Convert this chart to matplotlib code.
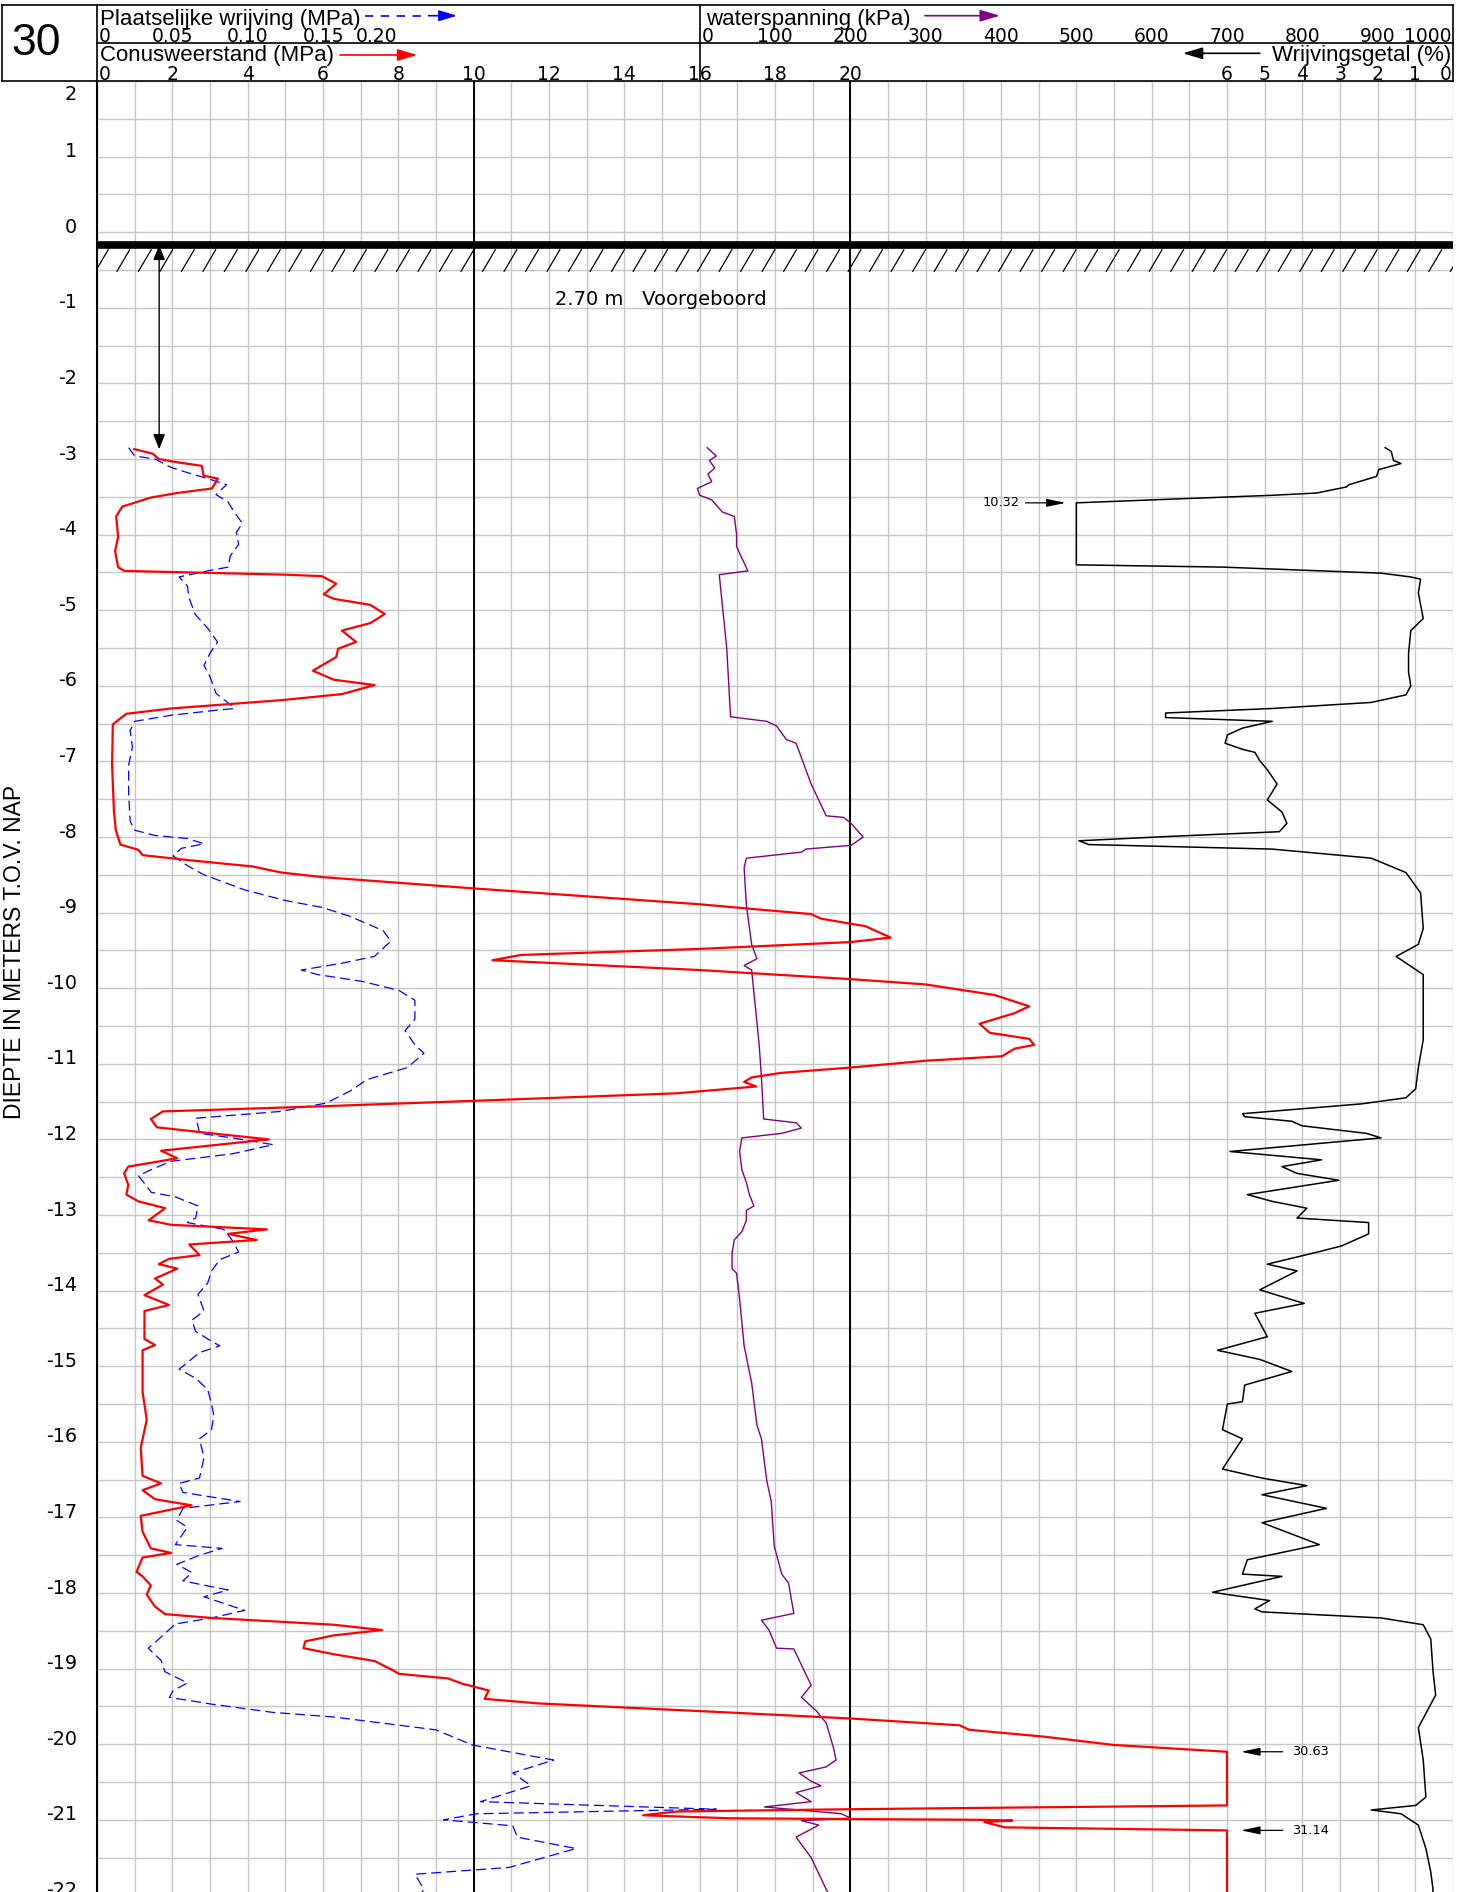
import numpy as np
import matplotlib
matplotlib.use("Agg")
import matplotlib.pyplot as plt
import matplotlib.transforms as mtransforms
from matplotlib.collections import LineCollection

plt.rcParams['font.family'] = ['Liberation Sans', 'DejaVu Sans']
plt.rcParams['axes.unicode_minus'] = False
NUMFONT = ['DejaVu Sans']

# ---------------- data ----------------
GROUND = -0.17          # m NAP, ground level
QC_CLIP = 30.0          # MPa, cone resistance display limit
RF_CLIP = 10.0          # %, friction ratio display limit

# cone resistance (MPa)
depth_qc = [-2.87, -2.93, -3.00, -3.04, -3.09, -3.22, -3.26, -3.39, -3.45, -3.51,
            -3.63, -3.76, -4.03, -4.22, -4.43, -4.48, -4.53, -4.55, -4.65, -4.79,
            -4.85, -4.93, -5.05, -5.17, -5.27, -5.42, -5.51, -5.62, -5.80, -5.92,
            -5.99, -6.11, -6.19, -6.30, -6.37, -6.51, -7.05, -7.67, -7.91, -8.10,
            -8.17, -8.24, -8.31, -8.39, -8.47, -8.53, -8.68, -8.89, -9.02, -9.08,
            -9.18, -9.33, -9.39, -9.48, -9.56, -9.63, -9.64, -9.76, -9.88, -9.95,
            -10.09, -10.24, -10.33, -10.47, -10.59, -10.67, -10.75, -10.80, -10.90, -10.96,
            -11.05, -11.12, -11.18, -11.24, -11.30, -11.39, -11.49, -11.56, -11.63, -11.73,
            -11.84, -11.92, -12.00, -12.15, -12.25, -12.36, -12.45, -12.60, -12.73, -12.82,
            -12.91, -13.07, -13.13, -13.19, -13.25, -13.33, -13.39, -13.53, -13.58, -13.65,
            -13.71, -13.84, -13.92, -14.06, -14.19, -14.27, -14.64, -14.72, -14.79, -15.34,
            -15.71, -16.08, -16.45, -16.55, -16.64, -16.76, -16.84, -16.98, -17.19, -17.41,
            -17.47, -17.53, -17.72, -17.78, -17.90, -18.02, -18.18, -18.28, -18.33, -18.42,
            -18.49, -18.56, -18.64, -18.73, -18.81, -18.90, -19.01, -19.07, -19.13, -19.20,
            -19.29, -19.40, -19.46, -19.58, -19.66, -19.75, -19.81, -19.90, -20.01, -20.10,
            -20.30, -20.50, -20.70, -20.81, -20.86, -20.89, -20.94, -20.98, -21.00, -21.01,
            -21.03, -21.10, -21.14, -21.40, -21.70, -22.00]
qc = [0.99, 1.48, 1.64, 2.08, 2.78, 2.83, 3.21, 3.05, 2.13, 1.43,
      0.67, 0.51, 0.56, 0.48, 0.56, 0.72, 5.00, 5.97, 6.35, 6.02,
      6.29, 7.26, 7.64, 7.26, 6.50, 6.88, 6.40, 6.35, 5.73, 6.29,
      7.37, 6.50, 4.89, 1.97, 0.78, 0.42, 0.40, 0.45, 0.50, 0.62,
      1.10, 1.21, 2.51, 4.13, 4.89, 5.97, 10.00, 16.00, 18.96, 19.22,
      20.40, 21.07, 20.00, 16.00, 11.26, 10.50, 10.94, 16.00, 20.00, 21.99,
      23.83, 24.75, 24.36, 23.43, 23.70, 24.75, 24.88, 24.36, 24.03, 21.99,
      20.00, 18.17, 17.38, 17.18, 17.50, 15.40, 10.00, 6.08, 1.75, 1.43,
      1.59, 3.05, 4.56, 1.70, 2.13, 0.83, 0.72, 0.83, 0.78, 1.10,
      1.81, 1.37, 1.97, 4.51, 3.48, 4.24, 2.45, 2.72, 1.91, 1.64,
      2.13, 1.54, 1.75, 1.26, 1.91, 1.26, 1.26, 1.54, 1.21, 1.21,
      1.32, 1.16, 1.21, 1.70, 1.21, 1.54, 2.51, 1.16, 1.21, 1.43,
      1.97, 1.21, 1.05, 1.21, 1.43, 1.32, 1.54, 1.81, 3.05, 6.29,
      7.57, 6.29, 5.53, 5.48, 6.29, 7.37, 7.81, 8.02, 9.32, 9.70,
      10.40, 10.29, 11.70, 16.76, 20.00, 22.90, 23.16, 25.14, 26.99, 30.63,
      33.50, 35.00, 32.80, 30.40, 20.00, 15.40, 14.50, 16.80, 23.43, 24.30,
      23.56, 24.10, 31.14, 34.00, 36.00, 35.00]

# local sleeve friction (MPa)
depth_fs = [-2.85, -2.96, -3.00, -3.11, -3.18, -3.26, -3.34, -3.47, -3.57, -3.70,
            -3.85, -3.97, -4.13, -4.28, -4.43, -4.48, -4.56, -4.68, -4.83, -5.05,
            -5.24, -5.42, -5.57, -5.73, -5.88, -6.10, -6.25, -6.30, -6.33, -6.39,
            -6.47, -6.59, -6.81, -7.05, -7.42, -7.79, -7.91, -7.98, -8.02, -8.09,
            -8.15, -8.25, -8.38, -8.50, -8.70, -8.84, -8.93, -9.05, -9.24, -9.38,
            -9.58, -9.67, -9.76, -9.82, -9.91, -10.03, -10.16, -10.41, -10.56, -10.75,
            -10.86, -11.05, -11.21, -11.36, -11.52, -11.63, -11.72, -11.82, -11.92, -11.98,
            -12.07, -12.19, -12.29, -12.40, -12.48, -12.70, -12.76, -12.88, -13.04, -13.10,
            -13.19, -13.34, -13.49, -13.59, -13.74, -13.90, -14.05, -14.27, -14.39, -14.54,
            -14.67, -14.73, -14.82, -15.04, -15.16, -15.31, -15.50, -15.65, -15.84, -15.96,
            -16.21, -16.48, -16.55, -16.67, -16.79, -16.88, -17.04, -17.13, -17.36, -17.41,
            -17.50, -17.62, -17.73, -17.84, -17.96, -18.05, -18.23, -18.33, -18.41, -18.61,
            -18.73, -18.89, -19.04, -19.19, -19.29, -19.38, -19.47, -19.58, -19.64, -19.81,
            -20.01, -20.21, -20.38, -20.55, -20.76, -20.86, -20.92, -21.00, -21.08, -21.23,
            -21.38, -21.63, -21.72, -21.92, -22.05]
fs = [0.021, 0.025, 0.0385, 0.049, 0.060, 0.0735, 0.086, 0.079, 0.087, 0.091,
      0.0965, 0.0925, 0.094, 0.0885, 0.087, 0.0735, 0.0545, 0.060, 0.061, 0.065,
      0.0735, 0.080, 0.075, 0.071, 0.075, 0.079, 0.0885, 0.091, 0.076, 0.049,
      0.025, 0.022, 0.0235, 0.021, 0.021, 0.022, 0.025, 0.0385, 0.060, 0.071,
      0.056, 0.0505, 0.060, 0.071, 0.098, 0.125, 0.149, 0.168, 0.190, 0.195,
      0.184, 0.1625, 0.1355, 0.1465, 0.176, 0.2005, 0.211, 0.211, 0.2045, 0.211,
      0.217, 0.206, 0.179, 0.168, 0.152, 0.122, 0.0655, 0.067, 0.068, 0.090,
      0.117, 0.090, 0.049, 0.036, 0.0275, 0.036, 0.052, 0.067, 0.0655, 0.060,
      0.084, 0.090, 0.094, 0.0815, 0.076, 0.0735, 0.067, 0.071, 0.063, 0.0655,
      0.076, 0.0815, 0.068, 0.0545, 0.0655, 0.0735, 0.076, 0.0775, 0.076, 0.068,
      0.071, 0.068, 0.0545, 0.057, 0.095, 0.057, 0.053, 0.060, 0.052, 0.083,
      0.068, 0.053, 0.063, 0.057, 0.087, 0.071, 0.098, 0.076, 0.052, 0.041,
      0.034, 0.0425, 0.045, 0.060, 0.0505, 0.048, 0.076, 0.117, 0.157, 0.225,
      0.249, 0.303, 0.276, 0.288, 0.2545, 0.411, 0.252, 0.230, 0.276, 0.279,
      0.318, 0.2735, 0.211, 0.217, 0.2125]

# pore water pressure (kPa)
depth_u = [-2.85, -2.96, -3.02, -3.12, -3.20, -3.30, -3.39, -3.48, -3.54, -3.70,
           -3.76, -4.00, -4.16, -4.48, -4.53, -5.51, -6.41, -6.47, -6.53, -6.71,
           -6.76, -7.30, -7.72, -7.74, -7.82, -8.00, -8.11, -8.16, -8.20, -8.28,
           -8.41, -8.90, -9.42, -9.61, -9.70, -9.76, -10.75, -11.18, -11.73, -11.78,
           -11.85, -11.92, -11.98, -12.16, -12.40, -12.57, -12.73, -12.88, -12.94, -13.07,
           -13.22, -13.33, -13.50, -13.71, -13.77, -14.11, -14.73, -15.22, -15.78, -15.96,
           -16.51, -16.79, -17.38, -17.75, -17.87, -18.27, -18.36, -18.49, -18.73, -18.74,
           -18.95, -19.22, -19.38, -19.56, -19.72, -20.06, -20.21, -20.30, -20.38, -20.49,
           -20.55, -20.64, -20.76, -20.83, -20.92, -20.98, -21.01, -21.07, -21.23, -21.50,
           -21.92, -22.05]
u = [10, 22, 13, 20, 11, 16, -3, 0, 16, 30,
     46, 49, 49, 64, 26, 36, 41, 89, 102, 115,
     128, 148, 168, 191, 201, 217, 201, 141, 135, 62,
     59, 62, 69, 76, 59, 69, 79, 82, 85, 128,
     135, 109, 56, 53, 56, 62, 66, 72, 62, 62,
     56, 46, 43, 43, 49, 53, 59, 69, 76, 82,
     89, 95, 99, 109, 118, 125, 82, 92, 102, 125,
     135, 148, 135, 155, 168, 178, 181, 168, 132, 148,
     161, 128, 148, 86, 188, 201, 135, 158, 128, 148,
     168, 175]

# friction ratio (%)
depth_rf = [-2.85, -2.90, -3.02, -3.06, -3.14, -3.23, -3.34, -3.37, -3.45, -3.48,
            -3.53, -3.58, -3.80, -4.00, -4.20, -4.40, -4.43, -4.48, -4.51, -4.56,
            -4.59, -4.77, -5.11, -5.27, -5.57, -5.82, -6.00, -6.12, -6.22, -6.30,
            -6.36, -6.42, -6.47, -6.56, -6.65, -6.76, -6.84, -6.88, -6.99, -7.11,
            -7.30, -7.51, -7.67, -7.82, -7.93, -7.99, -8.05, -8.10, -8.16, -8.28,
            -8.47, -8.74, -9.21, -9.42, -9.58, -9.69, -9.82, -10.68, -11.05, -11.33,
            -11.45, -11.53, -11.66, -11.70, -11.76, -11.82, -11.92, -11.98, -12.16, -12.27,
            -12.36, -12.45, -12.54, -12.73, -12.82, -12.91, -13.04, -13.10, -13.25, -13.41,
            -13.50, -13.65, -13.74, -13.99, -14.17, -14.30, -14.61, -14.79, -14.91, -15.07,
            -15.25, -15.47, -15.50, -15.84, -15.96, -16.36, -16.48, -16.58, -16.70, -16.88,
            -17.07, -17.36, -17.56, -17.75, -17.78, -17.99, -18.02, -18.10, -18.21, -18.25,
            -18.33, -18.42, -18.61, -19.04, -19.35, -19.78, -20.21, -20.70, -20.81, -20.87,
            -20.92, -21.07, -21.38, -21.69, -21.92, -22.05]
rf = [1.80, 1.64, 1.58, 1.38, 1.97, 2.03, 2.76, 2.83, 3.62, 4.80,
      7.43, 10.32, 13.0, 14.5, 12.5, 10.5, 6.12, 3.49, 1.91, 1.12,
      0.86, 0.92, 0.79, 1.12, 1.18, 1.18, 1.12, 1.25, 2.17, 4.80,
      7.63, 7.63, 4.80, 5.59, 5.99, 6.05, 5.59, 5.26, 5.13, 4.93,
      4.67, 4.93, 4.54, 4.41, 4.61, 7.43, 9.93, 9.67, 4.80, 2.17,
      1.25, 0.86, 0.79, 0.92, 1.51, 1.18, 0.79, 0.79, 0.92, 0.99,
      1.25, 2.43, 5.59, 5.53, 4.28, 4.01, 2.30, 1.91, 5.92, 3.49,
      4.54, 4.14, 3.03, 5.46, 4.80, 3.88, 4.14, 2.24, 2.24, 2.96,
      3.68, 4.93, 4.14, 5.13, 3.95, 5.26, 4.93, 6.25, 5.13, 4.28,
      5.53, 5.59, 5.99, 6.12, 5.59, 6.12, 5.07, 3.88, 5.07, 3.36,
      5.07, 3.55, 5.46, 5.59, 4.54, 6.38, 5.99, 4.87, 5.26, 5.07,
      1.91, 0.79, 0.59, 0.53, 0.46, 0.92, 0.79, 0.72, 0.99, 2.17,
      1.38, 0.92, 0.72, 0.59, 0.53, 0.55]

# header tick labels
qc_ticks = [0, 2, 4, 6, 8, 10, 12, 14, 16, 18, 20]
fs_ticks = [0, 0.05, 0.10, 0.15, 0.20]
fs_labels = ['0', '0.05', '0.10', '0.15', '0.20']
u_ticks = [0, 100, 200, 300, 400, 500, 600, 700, 800, 900, 1000]
rf_ticks = [6, 5, 4, 3, 2, 1, 0]
depth_labels = list(range(2, -23, -1))

# ---------------- layout ----------------
W, H, DPI = 1457, 1892, 100
X_LEFT, X_RIGHT = 97, 1453
Y_HEAD_TOP, Y_MID, Y_PLOT_TOP = 5, 43.3, 81
PX_PER_M = 75.6
PX_PER_MPA = (X_RIGHT - X_LEFT) / 36.0
GRID = '#c6c6c6'

fig = plt.figure(figsize=(W / DPI, H / DPI), dpi=DPI)
fig.patch.set_facecolor('white')

ytop = 2.0
ybot = ytop - (H - Y_PLOT_TOP) / PX_PER_M
ax = fig.add_axes([X_LEFT / W, 0, (X_RIGHT - X_LEFT) / W, (H - Y_PLOT_TOP) / H])
ax.set_xlim(0, 36)
ax.set_ylim(ybot, ytop)
ax.set_xticks(np.arange(0, 37, 1))
ax.set_yticks(np.arange(-22, 2.01, 0.5))
ax.grid(True, color=GRID, lw=1.0)
ax.set_axisbelow(True)
ax.tick_params(length=0, labelbottom=False, labelleft=False, labeltop=False)
for s in ['top', 'right', 'bottom']:
    ax.spines[s].set_visible(False)
ax.spines['left'].set_linewidth(1.5)
ax.axvline(10, color='black', lw=1.4, zorder=2)
ax.axvline(20, color='black', lw=1.4, zorder=2)

# depth labels
lab_tr = (mtransforms.blended_transform_factory(ax.transAxes, ax.transData)
          + mtransforms.ScaledTranslation(-20 / DPI, 5 / DPI, fig.dpi_scale_trans))
for v in depth_labels:
    yv = min(v, ytop - 18 / PX_PER_M)
    ax.text(0, yv, str(v), transform=lab_tr, ha='right', va='center',
            fontsize=13.8, family=NUMFONT, clip_on=False)
fig.text(14.5 / W, 1 - 952 / H, 'DIEPTE IN METERS T.O.V. NAP', rotation=90,
         ha='center', va='center', fontsize=16.5)

# ground level and pre-drilled part
ax.axhline(GROUND, color='black', lw=5.5, zorder=3)
hatch_x = np.arange(-0.05, 36.2, 0.571)
segs = [[(x, GROUND - 0.355), (x + 0.354, GROUND - 0.056)] for x in hatch_x]
ax.add_collection(LineCollection(segs, colors='black', linewidths=0.9, zorder=3))
ax.annotate('', xy=(1.65, depth_qc[0]), xytext=(1.65, GROUND),
            arrowprops=dict(arrowstyle='<|-|>,head_length=0.45,head_width=0.18',
                            mutation_scale=20, color='black', lw=1.0,
                            shrinkA=0, shrinkB=0), zorder=4)
ax.text(12.16, -0.963, f'{GROUND - depth_qc[0]:.2f} m   Voorgeboord',
        fontsize=14, family=NUMFONT, va='baseline', ha='left')


def twin(xlim):
    t = ax.twiny()
    t.set_xlim(*xlim)
    t.set_ylim(ybot, ytop)
    t.axis('off')
    return t


ax_fs = twin((0, 0.9))
ax_u = twin((-800, 1000))
ax_rf = twin((36, 0))
ax_qc = twin((0, 36))

ax_fs.plot(fs, depth_fs, color='#0000ff', lw=0.9, dashes=(8, 4))
ax_u.plot(u, depth_u, color='#800080', lw=1.0)
ax_rf.plot(np.minimum(rf, RF_CLIP), depth_rf, color='black', lw=1.1)
ax_qc.plot(np.minimum(qc, QC_CLIP), depth_qc, color='#ff0000', lw=1.6)


def mark_clipped(axis, depth, vals, clip, tip, tail, txt_x, ha):
    for i in range(len(vals)):
        if vals[i] > clip and (i == 0 or vals[i - 1] <= clip):
            d = depth[i]
            axis.annotate('', xy=(clip + tip, d), xytext=(clip + tail, d),
                          arrowprops=dict(arrowstyle='-|>,head_length=1.15,head_width=0.24',
                                          mutation_scale=10, color='black', lw=0.9,
                                          shrinkA=0, shrinkB=0))
            axis.text(clip + txt_x, d, f'{vals[i]:.2f}', ha=ha, va='center',
                      fontsize=9.3, family=NUMFONT)


mark_clipped(ax_qc, depth_qc, qc, QC_CLIP, 0.37, 1.48, 1.72, 'left')
mark_clipped(ax_rf, depth_rf, rf, RF_CLIP, 0.28, 1.35, 1.52, 'right')

# ---------------- header ----------------
hx = fig.add_axes([X_LEFT / W, 1 - Y_PLOT_TOP / H, (X_RIGHT - X_LEFT) / W,
                   (Y_PLOT_TOP - Y_HEAD_TOP) / H])
hx.set_xlim(0, 36)
hx.set_ylim(Y_PLOT_TOP, Y_HEAD_TOP)
hx.axis('off')
xl = (1.7 - X_LEFT) / PX_PER_MPA
kw = dict(color='black', lw=1.2, clip_on=False, solid_capstyle='projecting')
hx.plot([xl, 36], [Y_HEAD_TOP] * 2, **kw)
hx.plot([xl, 36], [Y_PLOT_TOP] * 2, **kw)
hx.plot([0, 36], [Y_MID] * 2, **kw)
for xv in [xl, 0, 16, 36]:
    hx.plot([xv, xv], [Y_HEAD_TOP, Y_PLOT_TOP], **kw)

hx.text((36 - X_LEFT) / PX_PER_MPA, 55, '30', fontsize=32, ha='center',
        va='baseline', clip_on=False)

hx.text(0.08, 25, 'Plaatselijke wrijving (MPa)', fontsize=16, va='baseline')
hx.text(0.08, 60.5, 'Conusweerstand (MPa)', fontsize=16, va='baseline')
hx.text(16.17, 25, 'waterspanning (kPa)', fontsize=16, va='baseline')
hx.text(35.95, 60.5, 'Wrijvingsgetal (%)', fontsize=16, va='baseline', ha='right')


def harrow(x0, x1, y, color, hl, hw):
    hx.annotate('', xy=(x1, y), xytext=(x0, y),
                arrowprops=dict(arrowstyle=f'-|>,head_length={hl},head_width={hw}',
                                mutation_scale=10, color=color, lw=1.2,
                                shrinkA=0, shrinkB=0))


hx.plot([7.11, 8.6], [15.7, 15.7], color='#0000ff', lw=1.2, dashes=(5, 4.5))
harrow(8.8, 9.56, 15.7, '#0000ff', 1.1, 0.33)
harrow(6.45, 8.50, 55, '#ff0000', 1.2, 0.36)
harrow(21.98, 23.97, 15.7, '#800080', 1.2, 0.36)
harrow(30.87, 28.83, 53.3, 'black', 1.2, 0.36)


def htwin(xlim):
    t = hx.twiny()
    t.set_xlim(*xlim)
    t.axis('off')
    return t


hx_fs = htwin((0, 0.9))
hx_u = htwin((-800, 1000))
hx_rf = htwin((36, 0))


def hlabel(axis, x, y, s, ha):
    dx = {'left': 2.0, 'right': -1.0, 'center': 0.0}[ha]
    tr = axis.transData + mtransforms.ScaledTranslation(dx / DPI, 0, fig.dpi_scale_trans)
    axis.text(x, y, s, transform=tr, ha=ha, va='baseline', fontsize=13.5,
              family=NUMFONT, clip_on=False)


for i, (v, s) in enumerate(zip(fs_ticks, fs_labels)):
    hlabel(hx_fs, v, 41.7, s, 'left' if i == 0 else ('right' if i == len(fs_ticks) - 1 else 'center'))
for i, v in enumerate(qc_ticks):
    hlabel(hx, v, 80.5, str(v), 'left' if i == 0 else 'center')
for i, v in enumerate(u_ticks):
    hlabel(hx_u, v, 41.7, str(v), 'left' if i == 0 else ('right' if i == len(u_ticks) - 1 else 'center'))
for i, v in enumerate(rf_ticks):
    hlabel(hx_rf, v, 80.5, str(v), 'right' if v == 0 else 'center')

fig.savefig('out.png', dpi=DPI, facecolor='white')
